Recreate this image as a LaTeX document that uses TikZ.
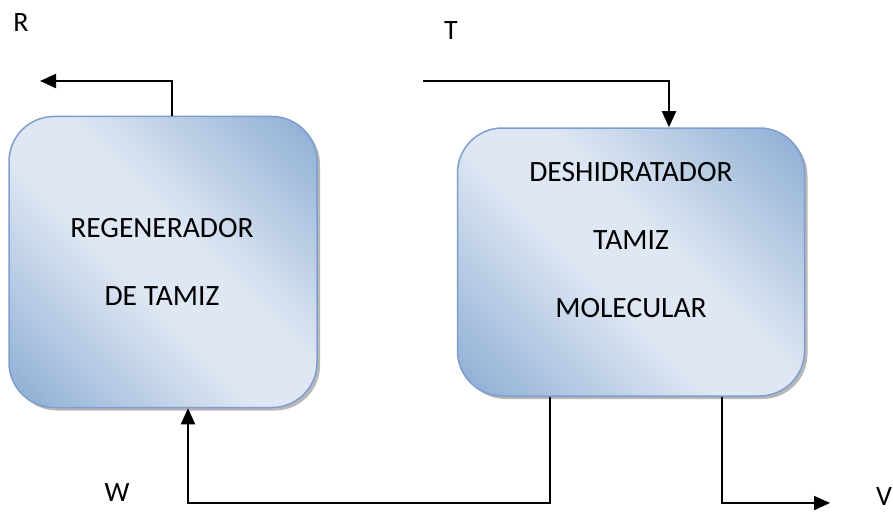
\documentclass[tikz,border=0pt]{standalone}
\usepackage{fontspec}
\setmainfont{Carlito}
\usetikzlibrary{arrows.meta,shadows,positioning}
\definecolor{boxlight}{RGB}{222,231,243}
\definecolor{boxdark}{RGB}{149,179,215}
\definecolor{boxedge}{RGB}{126,158,207}
% dark corners, broad light band along the other diagonal
\pgfdeclareverticalshading{unitshade}{100bp}{color(0bp)=(boxdark); color(18bp)=(boxdark);
  color(44bp)=(boxlight); color(56bp)=(boxlight); color(82bp)=(boxdark); color(100bp)=(boxdark)}

\begin{document}
\begin{tikzpicture}[x=1pt,y=-1pt,
    unit/.style={draw=boxedge, line width=1.5pt, rounded corners=45pt, inner sep=0pt,
      shading=unitshade, shading angle=-45,
      drop shadow={shadow xshift=3pt, shadow yshift=-3pt, fill=black!40, opacity=0.7}},
    unittext/.style={align=center, font=\fontsize{29.5}{68}\selectfont},
    stream/.style={font=\fontsize{28}{32}\selectfont},
    flow/.style={line width=2pt, -{Triangle[length=16pt,width=14pt]}}]
  % page size of the reference
  \useasboundingbox (0,0) rectangle (893,516);

  % the two units
  \node[unit, minimum width=308pt, minimum height=291pt] (regen) at (163,262) {};
  \node[unit, minimum width=347pt, minimum height=268pt] (deshid) at (631,262) {};
  \node[unittext] (regentxt) at (162,262) {REGENERADOR\\DE TAMIZ};
  \node[unittext] (deshidtxt) at (631,240) {DESHIDRATADOR\\TAMIZ\\MOLECULAR};

  % stream labels
  \node[stream] (R) at (21,23) {R};
  \node[stream] (T) at (451,31) {T};
  \node[stream] (W) at (117,493) {W};
  \node[stream] (V) at (884,497) {V};

  % free ends of the streams
  \coordinate (rout) at (40,81);
  \coordinate (tin) at (423,81);
  \coordinate (vout) at (830,503);

  % connectors
  \draw[flow] (172,0 |- regen.north) |- (rout);
  \draw[flow] (tin) -| (669,0 |- deshid.north);
  \draw[flow] (550,0 |- deshid.south) |- (188,503) -- (188,0 |- regen.south);
  \draw[flow] (722,0 |- deshid.south) |- (vout);
\end{tikzpicture}
\end{document}
